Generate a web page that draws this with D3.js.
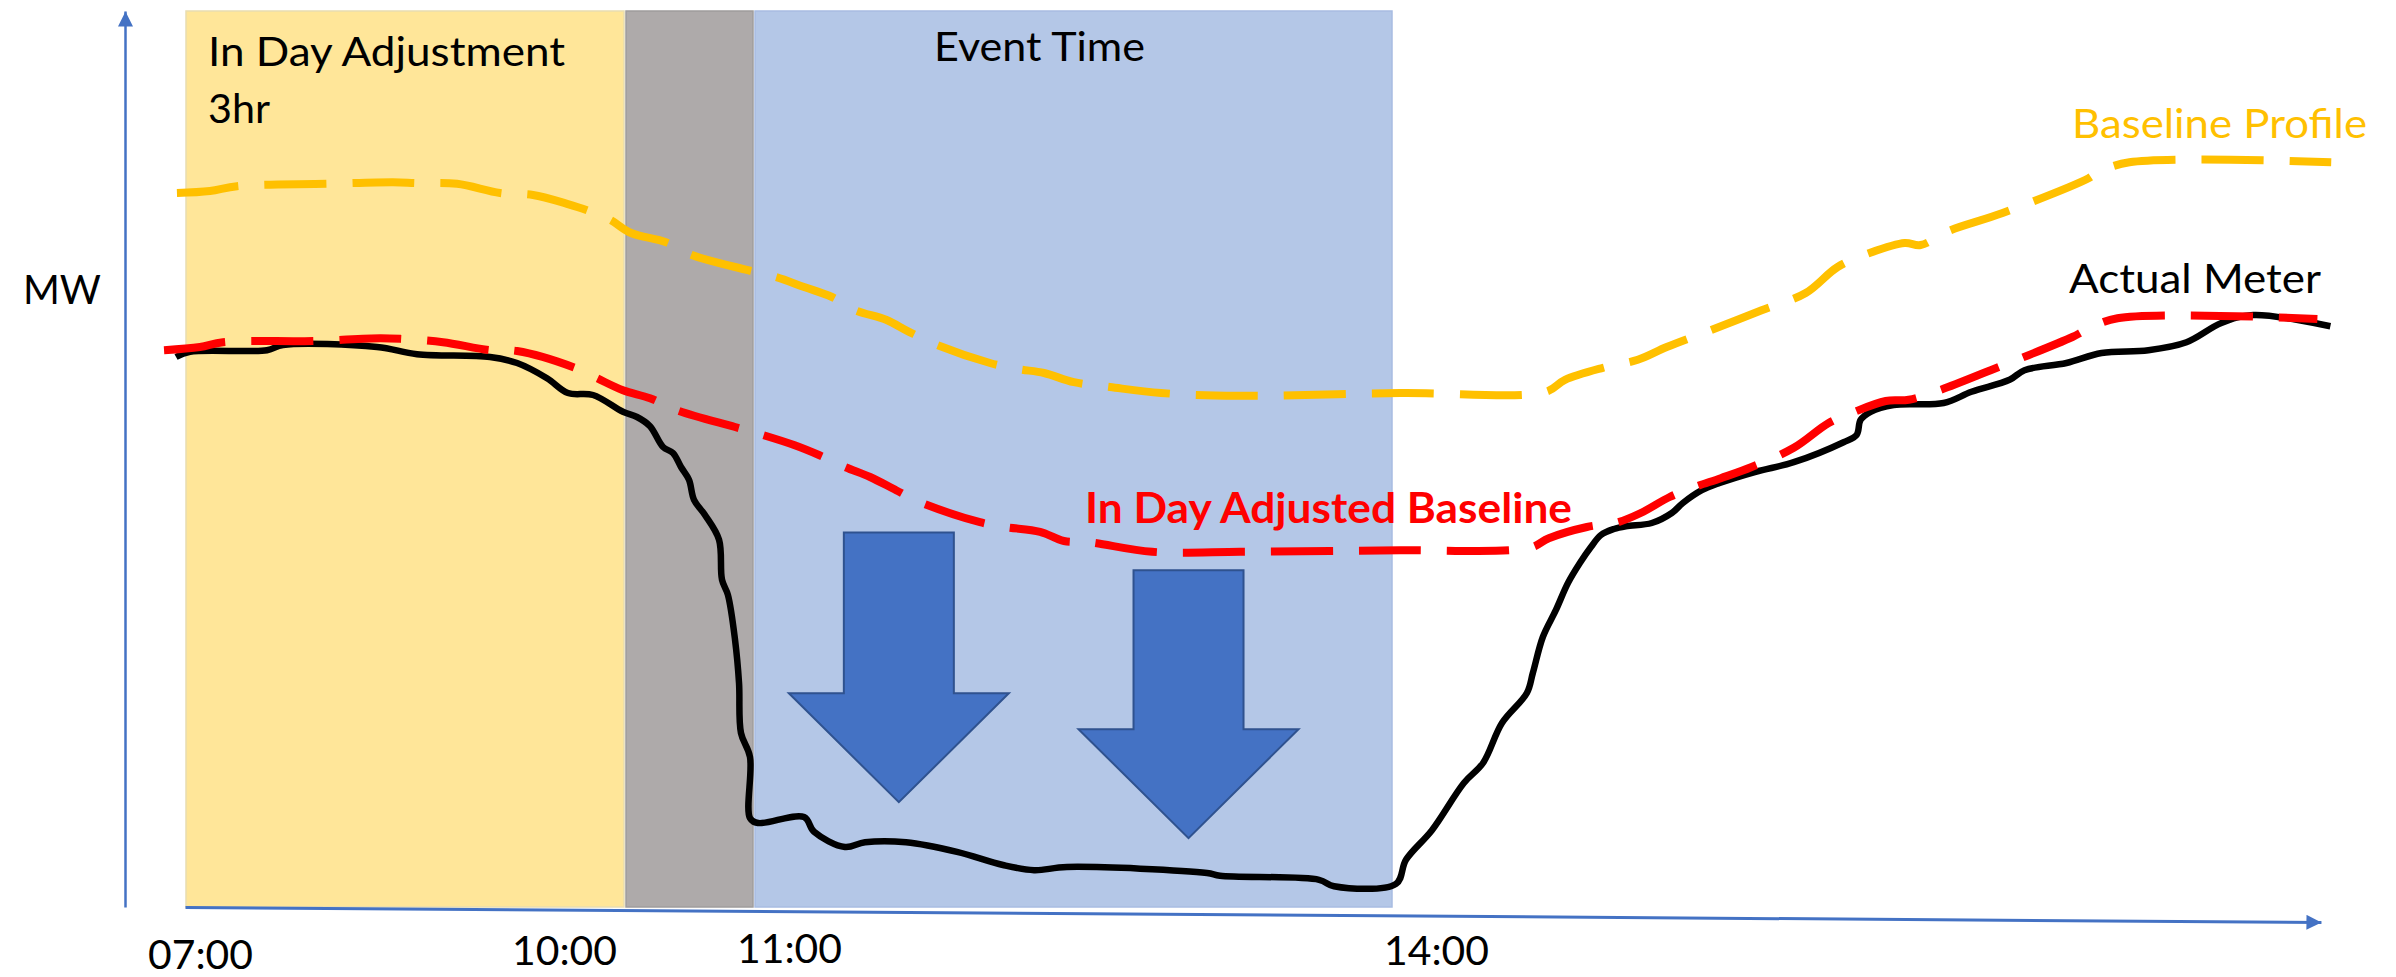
<!DOCTYPE html>
<html>
<head>
<meta charset="utf-8">
<script src="https://cdn.jsdelivr.net/npm/d3@7"></script>
<style>
  body { margin: 0; background: #ffffff; }
  svg text { font-family: Lato, "Open Sans", sans-serif; }
</style>
</head>
<body>
<svg id="chart"></svg>
<script>

// shaded periods, in hours of the day
var periodStart = [7, 10, 11];
var periodEnd = [10, 11, 14];

// x axis labels
var tickHours = [7, 10, 11, 14];

// [hour, MW] (schematic units)
var baselineProfile = [
  [6.945, 89.25], [7.170, 89.5], [7.355, 90.1], [7.968, 90.4], [8.418, 90.6], [8.582, 90.5],
  [8.855, 90.4], [9.148, 89.25], [9.373, 89.0], [9.605, 87.9], [9.741, 87.1], [9.898, 85.9],
  [10.047, 84.25], [10.318, 83.1], [10.519, 81.5], [10.953, 79.6], [11.103, 78.75], [11.235, 77.5],
  [11.366, 76.25], [11.474, 74.6], [11.620, 73.4], [11.728, 71.9], [11.859, 70.25], [12.108, 68.0],
  [12.239, 67.25], [12.362, 66.75], [12.502, 65.6], [12.671, 65.0], [12.911, 64.25], [13.272, 63.9],
  [14.033, 64.25], [14.718, 64.4], [14.808, 65.9], [14.986, 67.4], [15.150, 68.4], [15.286, 70.0],
  [15.493, 72.1], [15.732, 74.6], [15.939, 76.75], [16.089, 80.0], [16.239, 81.75], [16.404, 83.0],
  [16.479, 82.75], [16.610, 84.5], [16.864, 86.75], [17.268, 91.1], [17.305, 91.75], [17.460, 93.1],
  [18.408, 93.1]
];

var adjustedBaseline = [
  [6.857, 69.6], [7.102, 70.0], [7.259, 70.6], [7.873, 70.75], [8.330, 71.1], [8.486, 71.0],
  [8.759, 70.6], [9.080, 69.6], [9.264, 69.5], [9.659, 67.4], [9.809, 66.1], [9.986, 64.6],
  [10.194, 63.6], [10.403, 62.1], [10.853, 60.0], [11.042, 59.0], [11.188, 57.75], [11.305, 56.5],
  [11.427, 55.0], [11.545, 53.75], [11.667, 52.1], [11.779, 50.6], [12.061, 48.1], [12.178, 47.5],
  [12.343, 46.9], [12.455, 45.75], [12.573, 45.6], [12.869, 44.4], [13.282, 44.4], [13.704, 44.5],
  [14.033, 44.6], [14.643, 44.9], [14.732, 46.1], [14.911, 47.5], [15.056, 48.1], [15.164, 49.25],
  [15.300, 51.25], [15.418, 52.5], [15.540, 53.6], [15.685, 55.0], [15.883, 57.4], [16.047, 60.5],
  [16.155, 61.75], [16.315, 63.25], [16.423, 63.4], [16.568, 64.6], [16.808, 67.1], [17.192, 71.25],
  [17.254, 72.1], [17.404, 73.6], [18.343, 73.5]
];

var actualMeter = [
  [6.939, 68.75], [7.034, 69.4], [7.559, 69.6], [7.668, 70.25], [8.309, 70.0], [8.582, 69.1],
  [9.080, 68.75], [9.264, 68.0], [9.468, 66.1], [9.611, 64.25], [9.782, 64.0], [9.986, 61.9],
  [10.093, 61.25], [10.194, 60.1], [10.295, 57.5], [10.372, 56.75], [10.434, 55.0], [10.496, 53.4],
  [10.535, 50.9], [10.620, 49.0], [10.729, 45.9], [10.752, 40.9], [10.798, 39.0], [10.853, 33.4],
  [10.884, 28.0], [10.899, 21.75], [10.969, 18.75], [10.969, 11.1], [11.019, 10.5], [11.235, 11.25],
  [11.282, 9.4], [11.427, 7.5], [11.521, 8.1], [11.714, 8.1], [11.953, 6.9], [12.169, 5.25],
  [12.315, 4.6], [12.469, 5.0], [13.127, 4.25], [13.188, 3.9], [13.653, 3.4], [13.723, 2.6],
  [14.014, 2.9], [14.061, 5.9], [14.183, 9.6], [14.333, 15.5], [14.423, 18.0], [14.512, 23.0],
  [14.629, 26.75], [14.657, 29.25], [14.704, 33.75], [14.765, 37.1], [14.822, 40.5], [14.878, 43.0],
  [14.930, 45.0], [14.977, 46.5], [15.038, 47.25], [15.094, 47.6], [15.216, 48.0], [15.310, 49.25],
  [15.362, 50.5], [15.451, 52.1], [15.535, 53.0], [15.704, 54.4], [15.883, 55.6], [16.117, 58.1],
  [16.178, 59.0], [16.197, 60.9], [16.244, 61.9], [16.352, 62.75], [16.587, 63.0], [16.718, 64.4],
  [16.897, 65.9], [16.967, 67.1], [17.164, 68.0], [17.329, 69.25], [17.549, 69.6], [17.728, 70.6],
  [17.892, 73.0], [18.042, 74.0], [18.404, 72.6]
];

// the two big "reduction" arrows
var arrowHour = [11.68, 13.04];
var arrowTop = [46.8, 42.1];
var arrowTip = [13.1, 8.6];


var dimensions = {
  width: 2396,
  height: 977
}

var periodColors = ["#FFE699", "#AEAAAA", "#B4C7E7"]
var periodStroke = ["#E9DDB0", "#9F9C9C", "#A8BCE2"]

var svg = d3.select("#chart")
  .attr("width", dimensions.width)
  .attr("height", dimensions.height)

// piecewise time scale - the drawing is a schematic, hours are not evenly spaced
var x = d3.scaleLinear()
  .domain([7, 10, 11, 14, 18.36])
  .range([185, 625, 754, 1393, 2321])

var y = d3.scaleLinear()
  .domain([0, 112])
  .range([907, 11])

var defs = svg.append("defs")
defs.append("marker")
  .attr("id", "axisArrow")
  .attr("viewBox", "0 0 10 10")
  .attr("refX", 10)
  .attr("refY", 5)
  .attr("markerWidth", 16)
  .attr("markerHeight", 15)
  .attr("markerUnits", "userSpaceOnUse")
  .attr("orient", "auto")
  .append("path")
  .attr("d", "M0,0L10,5L0,10Z")
  .attr("fill", "#4472C4")

// shaded periods
svg.append("g")
  .selectAll("rect")
  .data(periodStart)
  .enter()
  .append("rect")
    .attr("x", function(d) { return x(d) + 1; })
    .attr("y", y(112))
    .attr("width", function(d, i) { return x(periodEnd[i]) - x(d) - 2; })
    .attr("height", y(0) - y(112))
    .attr("fill", function(d, i) { return periodColors[i]; })
    .attr("stroke", function(d, i) { return periodStroke[i]; })
    .attr("stroke-width", 1.5)

// axes
var yAxis = svg.append("g")
  .attr("transform", "translate(125,0)")
  .call(d3.axisLeft(y).tickValues([]).tickSizeOuter(0))
yAxis.select(".domain")
  .attr("stroke", "#4472C4")
  .attr("stroke-width", 2.5)
  .attr("marker-end", "url(#axisArrow)")

// label offsets, the labels sit a bit off the hour marks in the original
var tickNudge = { 7: [15, 62], 10: [-61, 58], 11: [35, 56], 14: [43, 58] }

var xAxis = svg.append("g")
  .attr("transform", "translate(0," + y(0) + ")")
  .call(d3.axisBottom(x)
    .tickValues(tickHours)
    .tickSize(0)
    .tickSizeOuter(0)
    .tickFormat(function(d) { return d3.format("02")(d) + ":00"; }))
xAxis.select(".domain")
  .attr("stroke", "#4472C4")
  .attr("stroke-width", 3)
  .attr("transform", "rotate(0.4," + x(7) + ",0)")  // the axis slopes down slightly
  .attr("marker-end", "url(#axisArrow)")
xAxis.selectAll(".tick text")
  .attr("x", function(d) { return tickNudge[d][0]; })
  .attr("y", function(d) { return tickNudge[d][1]; })
  .attr("dy", null)
  .attr("fill", "#000")
  .style("font-size", "41px")
  .attr("textLength", 105)
  .attr("lengthAdjust", "spacingAndGlyphs")

// arrows
var shaftHalf = 55, headHalf = 110, headLen = 109
svg.append("g")
  .selectAll("path")
  .data(arrowHour)
  .enter()
  .append("path")
    .attr("d", function(d, i) {
      var cx = x(d), top = y(arrowTop[i]), tip = y(arrowTip[i]), base = tip - headLen;
      return "M" + (cx - shaftHalf) + "," + top + "H" + (cx + shaftHalf) + "V" + base +
        "H" + (cx + headHalf) + "L" + cx + "," + tip + "L" + (cx - headHalf) + "," + base +
        "H" + (cx - shaftHalf) + "Z";
    })
    .attr("fill", "#4472C4")
    .attr("stroke", "#2F528F")
    .attr("stroke-width", 2)

// lines
var line = d3.line()
  .x(function(d) { return x(d[0]); })
  .y(function(d) { return y(d[1]); })
  .curve(d3.curveCatmullRom.alpha(0.5))

svg.append("path")
  .datum(baselineProfile)
  .attr("d", line)
  .attr("fill", "none")
  .attr("stroke", "#FFC000")
  .attr("stroke-width", 8)
  .attr("stroke-dasharray", "62 26")

svg.append("path")
  .datum(actualMeter)
  .attr("d", line)
  .attr("fill", "none")
  .attr("stroke", "#000")
  .attr("stroke-width", 6.5)
  .attr("stroke-linejoin", "round")

svg.append("path")
  .datum(adjustedBaseline)
  .attr("d", line)
  .attr("fill", "none")
  .attr("stroke", "#FF0000")
  .attr("stroke-width", 8)
  .attr("stroke-dasharray", "62 26")

// labels
function label(txt, px, py, len, color, weight) {
  svg.append("text")
    .text(txt)
    .attr("x", px)
    .attr("y", py)
    .attr("fill", color || "#000")
    .style("font-size", weight ? "42px" : "41px")
    .style("font-weight", weight || "normal")
    .attr("textLength", len)
    .attr("lengthAdjust", "spacingAndGlyphs")
}

label("In Day Adjustment", 208, 66, 357)
label("3hr", 208, 123, 62)
label("Event Time", 934, 61, 211)
label("MW", 23, 304, 78)
label("Baseline Profile", 2072, 138, 295, "#FFC000")
label("Actual Meter", 2069, 293, 252)
label("In Day Adjusted Baseline", 1085, 523, 487, "#FF0000", "bold")

</script>
</body>
</html>
